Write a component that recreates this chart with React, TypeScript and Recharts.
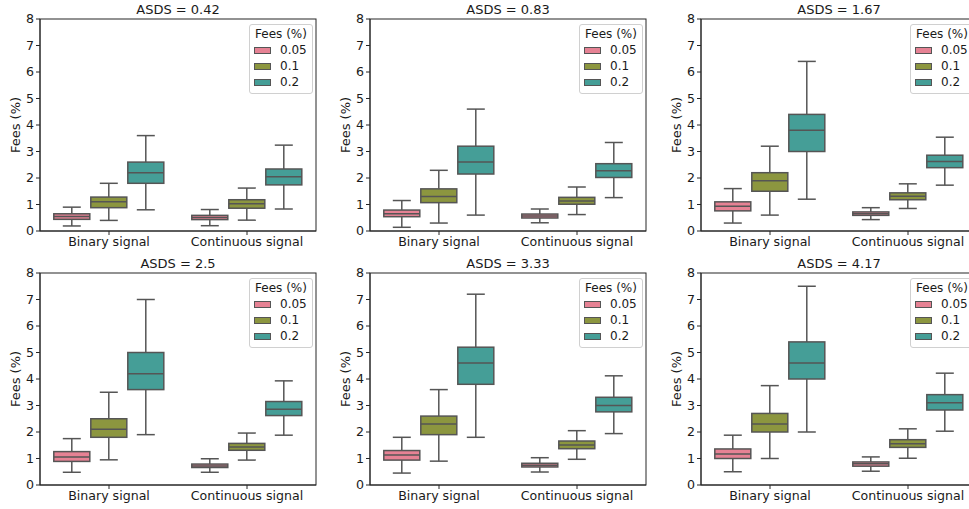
import React from 'react';
import * as R from 'recharts';
import { ComposedChart, Bar, XAxis, YAxis, Legend } from 'recharts';

const CATEGORIES = ['Binary signal', 'Continuous signal'];
const FEES = ['0.05', '0.1', '0.2'];
const COLORS = ['#e68294', '#8c963f', '#459e97'];
const Y_TICKS = [0, 1, 2, 3, 4, 5, 6, 7, 8];
const ASDS = ['0.42', '0.83', '1.67', '2.5', '3.33', '4.17'];

// each: per fee -> [Binary stats, Continuous stats], stats = [min, q1, median, q3, max]
const statsASDS042 = [
  [[0.19, 0.44, 0.55, 0.65, 0.9], [0.2, 0.43, 0.51, 0.59, 0.81]],
  [[0.4, 0.88, 1.1, 1.28, 1.8], [0.41, 0.86, 1.03, 1.18, 1.62]],
  [[0.8, 1.8, 2.2, 2.6, 3.6], [0.83, 1.74, 2.05, 2.34, 3.24]],
];
const statsASDS083 = [
  [[0.14, 0.54, 0.65, 0.79, 1.15], [0.31, 0.49, 0.57, 0.64, 0.83]],
  [[0.3, 1.07, 1.3, 1.59, 2.29], [0.62, 1.01, 1.13, 1.27, 1.66]],
  [[0.6, 2.15, 2.6, 3.2, 4.6], [1.26, 2.02, 2.27, 2.54, 3.34]],
];
const statsASDS167 = [
  [[0.3, 0.76, 0.93, 1.1, 1.6], [0.43, 0.59, 0.65, 0.72, 0.88]],
  [[0.6, 1.5, 1.9, 2.2, 3.2], [0.85, 1.18, 1.31, 1.44, 1.78]],
  [[1.2, 3.0, 3.8, 4.4, 6.4], [1.73, 2.39, 2.62, 2.86, 3.54]],
];
const statsASDS250 = [
  [[0.48, 0.89, 1.06, 1.26, 1.75], [0.48, 0.66, 0.72, 0.79, 0.99]],
  [[0.95, 1.8, 2.1, 2.5, 3.5], [0.94, 1.31, 1.43, 1.57, 1.96]],
  [[1.9, 3.6, 4.2, 5.0, 7.0], [1.88, 2.62, 2.86, 3.15, 3.93]],
];
const statsASDS333 = [
  [[0.45, 0.94, 1.13, 1.3, 1.8], [0.49, 0.68, 0.75, 0.82, 1.03]],
  [[0.9, 1.9, 2.3, 2.6, 3.6], [0.97, 1.37, 1.51, 1.66, 2.05]],
  [[1.8, 3.8, 4.6, 5.2, 7.2], [1.94, 2.76, 3.0, 3.31, 4.12]],
];
const statsASDS417 = [
  [[0.5, 1.0, 1.17, 1.36, 1.88], [0.52, 0.71, 0.8, 0.87, 1.06]],
  [[1.0, 2.0, 2.3, 2.7, 3.75], [1.01, 1.42, 1.56, 1.71, 2.12]],
  [[2.0, 4.0, 4.6, 5.4, 7.5], [2.03, 2.83, 3.1, 3.41, 4.22]],
];

const PANEL_STATS = [statsASDS042, statsASDS083, statsASDS167, statsASDS250, statsASDS333, statsASDS417];

const FONT = '"DejaVu Sans", sans-serif';
const LINE = '#555555';
const TEXT = '#1a1a1a';
const SPINE = '#262626';

const usePlotAreaHook: any = (R as any).usePlotArea;

function Frame() {
  const area = usePlotAreaHook ? usePlotAreaHook() : null;
  if (!area) return null;
  return (
    <rect
      x={area.x}
      y={area.y}
      width={area.width}
      height={area.height}
      fill="none"
      stroke={SPINE}
      strokeWidth={1}
    />
  );
}

function BoxShape(props: any) {
  const { x, y, width, height, fill, stats } = props;
  if (!stats) return null;
  const top = Math.min(y, y + height);
  const bot = Math.max(y, y + height);
  const [mn, q1, md, q3, mx] = stats;
  const py = (v: number) => bot - ((v - mn) / (mx - mn)) * (bot - top);
  const cx = x + width / 2;
  const cap = width / 4;
  return (
    <g>
      <line x1={cx} x2={cx} y1={py(mx)} y2={py(q3)} stroke={LINE} strokeWidth={1.5} />
      <line x1={cx} x2={cx} y1={py(q1)} y2={py(mn)} stroke={LINE} strokeWidth={1.5} />
      <line x1={cx - cap} x2={cx + cap} y1={py(mx)} y2={py(mx)} stroke={LINE} strokeWidth={1.5} />
      <line x1={cx - cap} x2={cx + cap} y1={py(mn)} y2={py(mn)} stroke={LINE} strokeWidth={1.5} />
      <rect x={x} y={py(q3)} width={width} height={py(q1) - py(q3)} fill={fill} stroke={LINE} strokeWidth={1.5} />
      <line x1={x} x2={x + width} y1={py(md)} y2={py(md)} stroke={LINE} strokeWidth={1.5} />
    </g>
  );
}

function LegendContent(props: any) {
  const { payload } = props;
  return (
    <div
      style={{
        border: '1px solid #d0d0d0',
        borderRadius: 3,
        background: 'rgba(255,255,255,0.85)',
        padding: '1px 4px 3px 4px',
        fontFamily: FONT,
        fontSize: 12,
        lineHeight: '16px',
        color: TEXT,
        boxSizing: 'border-box',
        width: 64,
        whiteSpace: 'nowrap',
      }}
    >
      <div style={{ textAlign: 'center' }}>Fees (%)</div>
      {(payload || []).map((e: any) => (
        <div key={e.value} style={{ display: 'flex', alignItems: 'center' }}>
          <span
            style={{
              display: 'inline-block',
              width: 15,
              height: 5,
              background: e.color,
              border: '1px solid #555',
              marginRight: 9,
            }}
          />
          {e.value}
        </div>
      ))}
    </div>
  );
}

function Panel({ title, stats, left, top }: any) {
  const data = CATEGORIES.map((cat, ci) => {
    const row: any = { cat };
    FEES.forEach((_, fi) => {
      row['s' + fi] = stats[fi][ci];
    });
    return row;
  });
  return (
    <div style={{ position: 'absolute', left, top, width: 326, height: 255 }}>
      <div
        style={{
          position: 'absolute',
          left: 40,
          width: 276,
          top: 2,
          textAlign: 'center',
          fontFamily: FONT,
          fontSize: 13,
          lineHeight: '16px',
          color: TEXT,
          whiteSpace: 'nowrap',
        }}
      >
        {title}
      </div>
      <ComposedChart
        width={326}
        height={255}
        data={data}
        margin={{ top: 19, right: 10, bottom: 0, left: 0 }}
        barCategoryGap="10%"
        barGap={1}
        style={{ fontFamily: FONT }}
      >
        <XAxis
          dataKey="cat"
          height={24}
          tickSize={4}
          tickMargin={2}
          tick={{ fontSize: 12.6, fill: TEXT, fontFamily: FONT }}
          axisLine={{ stroke: SPINE, strokeWidth: 1 }}
          tickLine={{ stroke: SPINE }}
        />
        <YAxis
          type="number"
          domain={[0, 8]}
          ticks={Y_TICKS}
          width={40}
          tickSize={4}
          tickMargin={2}
          tick={{ fontSize: 12.6, fill: TEXT, fontFamily: FONT }}
          axisLine={{ stroke: SPINE, strokeWidth: 1 }}
          tickLine={{ stroke: SPINE }}
          label={{
            value: 'Fees (%)',
            angle: -90,
            position: 'insideLeft',
            offset: 15,
            style: { textAnchor: 'middle', fontSize: 13, fill: TEXT, fontFamily: FONT },
          }}
        />
        <Legend
          layout="vertical"
          align="center"
          verticalAlign="middle"
          content={<LegendContent />}
          wrapperStyle={{ position: 'absolute', left: 249, top: 24, width: 64, height: 68 }}
        />
        {FEES.map((f, fi) => (
          <Bar
            key={f}
            name={f}
            dataKey={(d: any) => [d['s' + fi][0], d['s' + fi][4]]}
            fill={COLORS[fi]}
            isAnimationActive={false}
            shape={(p: any) => <BoxShape {...p} fill={COLORS[fi]} stats={p.payload && p.payload['s' + fi]} />}
          />
        ))}
        <Frame />
      </ComposedChart>
    </div>
  );
}

const LEFTS = [0, 330, 661];
const TOPS = [0, 254];

export default function App() {
  return (
    <div
      style={{
        position: 'absolute',
        left: 0,
        top: 0,
        width: 969,
        height: 509,
        overflow: 'hidden',
        background: '#fff',
      }}
    >
      {ASDS.map((a, i) => (
        <Panel
          key={a}
          title={'ASDS = ' + a}
          stats={PANEL_STATS[i]}
          left={LEFTS[i % 3]}
          top={TOPS[Math.floor(i / 3)]}
        />
      ))}
    </div>
  );
}
